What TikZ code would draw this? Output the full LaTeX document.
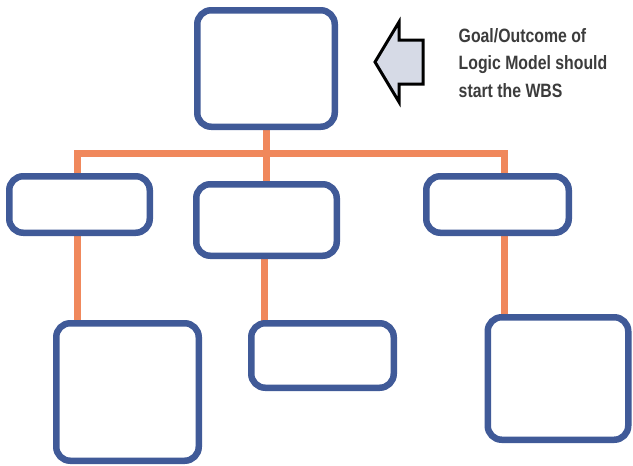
\documentclass[tikz,border=0pt]{standalone}
\usepackage{fontspec}
\newfontfamily\narrowsans[FakeStretch=0.82]{Liberation Sans}
\usetikzlibrary{backgrounds}
\definecolor{boxblue}{RGB}{64,90,152}
\definecolor{linkorange}{RGB}{240,136,92}
\definecolor{arrowfill}{RGB}{214,218,230}
\definecolor{notegray}{RGB}{60,60,60}
\tikzset{
  wbsbox/.style={draw=boxblue, line width=6.5pt, rounded corners=14pt, fill=white,
    inner sep=0pt, outer sep=0pt},
  link/.style={draw=linkorange, line width=7pt},
  notearrow/.style={draw=black, line width=3pt, fill=arrowfill, line join=miter},
}
\begin{document}
\begin{tikzpicture}[x=1pt,y=-1pt]
\useasboundingbox (0,0) rectangle (633,466);
% boxes (size = outer extent minus line width)
\node[wbsbox, minimum width=137.5pt, minimum height=116.5pt] (top) at (266,68.5) {};
\node[wbsbox, minimum width=140.5pt, minimum height=56.5pt] (ml) at (79.5,204.5) {};
\node[wbsbox, minimum width=140.5pt, minimum height=71.5pt] (mc) at (266.5,220) {};
\node[wbsbox, minimum width=142.5pt, minimum height=56.5pt] (mr) at (497.5,204.5) {};
\node[wbsbox, minimum width=142.5pt, minimum height=137.5pt] (bl) at (127.5,392) {};
\node[wbsbox, minimum width=142.5pt, minimum height=64.5pt] (bc) at (322.5,355.5) {};
\node[wbsbox, minimum width=140.5pt, minimum height=122.5pt] (br) at (558,378.5) {};
% connectors
\coordinate (busL) at (77,153);
\coordinate (busR) at (504,153);
\coordinate (stubC) at (264,0);
\begin{scope}[on background layer]
\fill[white] (0,0) rectangle (633,466);
\draw[link] (ml.north -| busL) -- (busL) -- (busR) -- (mr.north -| busR);
\draw[link] (top.south) -- (mc.north -| top.south);
\draw[link] (ml.south -| busL) -- (bl.north -| busL);
\draw[link] (mc.south -| stubC) -- (bc.north -| stubC);
\draw[link] (mr.south -| busR) -- (br.north -| busR);
\end{scope}
% pointer arrow
\draw[notearrow] (375,62) -- (399,22) -- (399,40) -- (423,40) -- (423,84) -- (399,84) -- (399,102) -- cycle;
% note
\node[font=\narrowsans\bfseries\fontsize{19.3}{27.5}\selectfont, text=notegray, align=left,
  anchor=center, inner sep=0pt] (note) at (533,63)
  {Goal/Outcome of\\Logic Model should\\start the WBS};
\end{tikzpicture}
\end{document}
